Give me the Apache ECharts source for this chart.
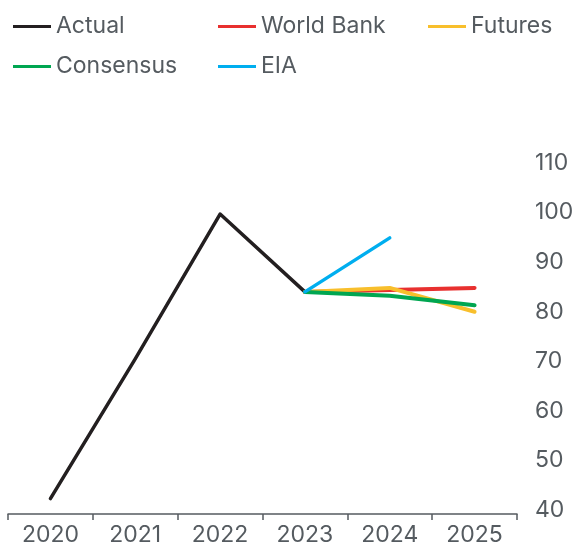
<!DOCTYPE html>
<html>
<head>
<meta charset="utf-8">
<script src="https://cdn.jsdelivr.net/npm/echarts@6/dist/echarts.min.js"></script>
<style>
  html, body { margin: 0; padding: 0; background: #fff; }
  #chart { width: 576px; height: 546px; }
</style>
</head>
<body>
<div id="chart"></div>
<script>
// Oil price: history and forecasts (US$/bbl)
const years = ['2020', '2021', '2022', '2023', '2024', '2025'];
const actual = [42.3, 70.5, 99.7, 84.0, null, null];
const worldBank = [null, null, null, 84.0, 84.4, 84.8];
const futures = [null, null, null, 84.0, 84.8, 80.0];
const consensus = [null, null, null, 84.0, 83.2, 81.3];
const eia = [null, null, null, 84.0, 94.9, null];
const yTicks = { min: 40, max: 110, step: 10 };

const FONT = 'Inter';
const TEXT = '#555b60';
const SIZE = 23;

const colors = {
  Actual: '#231f20',
  'World Bank': '#e8302f',
  Futures: '#f8bf2c',
  Consensus: '#00a651',
  EIA: '#00aeef'
};

function legendAt(name, left, top) {
  return {
    data: [name],
    left: left,
    top: top,
    itemWidth: 38,
    itemHeight: 3,
    itemGap: 0,
    padding: 0,
    icon: 'rect',
    textStyle: { fontFamily: FONT, fontSize: SIZE, color: TEXT, padding: [0, 0, 0, 0] }
  };
}

function line(name, data, width, z) {
  return {
    name: name,
    type: 'line',
    data: data,
    symbol: 'none',
    connectNulls: false,
    z: z,
    lineStyle: { color: colors[name], width: width, cap: 'round', join: 'round' },
    itemStyle: { color: colors[name] }
  };
}

const chart = echarts.init(document.getElementById('chart'));
chart.setOption({
  animation: false,
  legend: [
    legendAt('Actual', 13, 15),
    legendAt('World Bank', 218, 15),
    legendAt('Futures', 428, 15),
    legendAt('Consensus', 13, 55),
    legendAt('EIA', 218, 55)
  ],
  grid: { left: 8, right: 59, top: 163, bottom: 36, containLabel: false, outerBoundsMode: 'none' },
  xAxis: {
    type: 'category',
    data: years,
    boundaryGap: true,
    offset: 4,
    axisLine: { lineStyle: { color: '#555b60', width: 1.5 } },
    axisTick: { show: true, length: 6, lineStyle: { color: '#555b60', width: 1.5 } },
    axisLabel: { fontFamily: FONT, fontSize: SIZE, color: TEXT, margin: 10 },
    splitLine: { show: false }
  },
  yAxis: {
    type: 'value',
    position: 'right',
    min: yTicks.min,
    max: yTicks.max,
    interval: yTicks.step,
    axisLine: { show: false },
    axisTick: { show: false },
    splitLine: { show: false },
    axisLabel: { fontFamily: FONT, fontSize: SIZE, color: TEXT, margin: 18 }
  },
  series: [
    line('Actual', actual, 3.5, 2),
    line('World Bank', worldBank, 4, 3),
    line('Futures', futures, 4, 4),
    line('Consensus', consensus, 4, 5),
    line('EIA', eia, 3.5, 6)
  ]
});
</script>
</body>
</html>
